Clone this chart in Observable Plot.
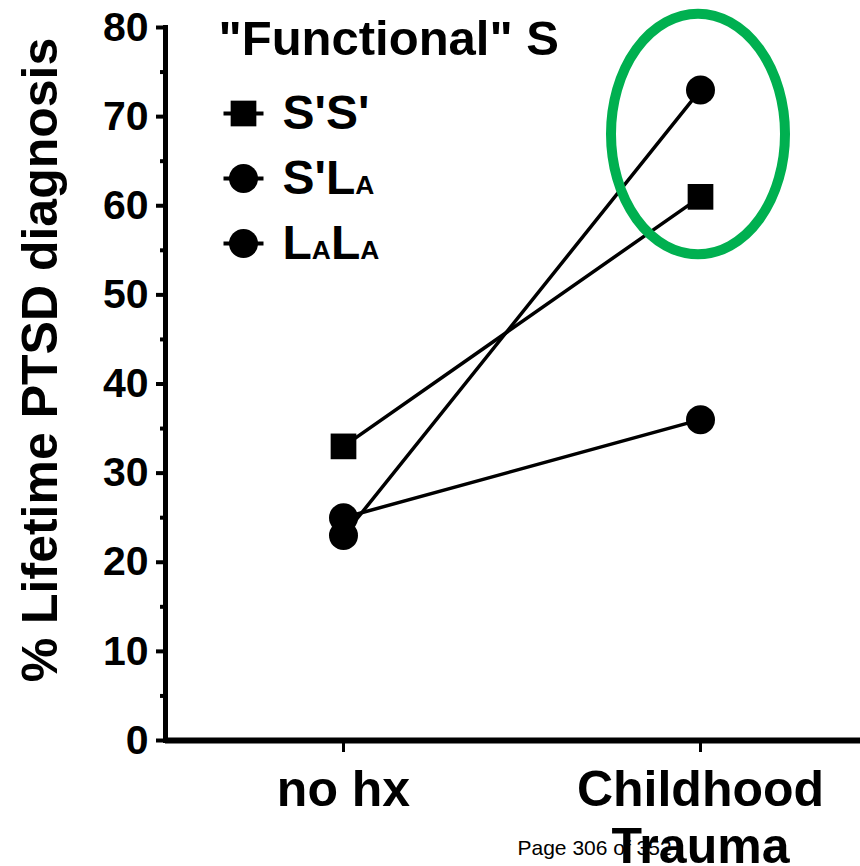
<!DOCTYPE html>
<html><head><meta charset="utf-8">
<script src="https://cdn.jsdelivr.net/npm/d3@7"></script>
<script src="https://cdn.jsdelivr.net/npm/@observablehq/plot@0.6"></script>
<style>body{margin:0;background:#fff}</style>
</head><body><div id="chart"></div>
<script>
const groups = ["no hx", "Childhood\nTrauma"];
const genotypes = ["S'S'", "S'LA", "LALA"];
const ssValues = [33, 61];
const slValues = [23, 73];
const llValues = [25, 36];
const yTicks = [0, 10, 20, 30, 40, 50, 60, 70, 80];
const yMinorTicks = [5, 15, 25, 35, 45, 55, 65, 75];
const yLabel = "% Lifetime PTSD diagnosis";
const legendTitle = "\"Functional\" S";
const legendSymbols = ["square", "circle", "circle"];
const highlightGroup = "Childhood\nTrauma";
const highlightRange = [54.5, 81.5];
const pageNote = "Page 306 of 352";

const series = [ssValues, slValues, llValues];
const data = genotypes.flatMap((g, i) => groups.map((grp, j) => ({genotype: g, group: grp, value: series[i][j]})));

const FONT = "'Liberation Sans', Arial, Helvetica, sans-serif";
const dash = {draw(ctx) { ctx.moveTo(-20, 0); ctx.lineTo(20, 0); }};

const legendMarks = genotypes.flatMap((g, i) => [
  Plot.dot([g], {frameAnchor: "top-left", dx: 78, dy: 86 + 65 * i, symbol: dash, stroke: "#000", strokeWidth: 4, fill: "none", r: 10}),
  Plot.dot([g], {frameAnchor: "top-left", dx: 78, dy: 86 + 65 * i, symbol: legendSymbols[i], fill: "#000", r: 14.5}),
  Plot.text([g], {frameAnchor: "top-left", dx: 117, dy: 86 + 65 * i, text: d => d, textAnchor: "start", lineAnchor: "middle", fontSize: 48, fontWeight: "bold", fill: "#000"})
]);

const plot = Plot.plot({
  width: 860, height: 866,
  marginTop: 27, marginBottom: 126, marginLeft: 165, marginRight: 0,
  style: {fontFamily: FONT, background: "#fff", color: "#000", overflow: "visible"},
  x: {type: "point", domain: groups, range: [343, 700], padding: 0},
  y: {domain: [0, 80]},
  symbol: {domain: genotypes, range: legendSymbols},
  marks: [
    Plot.line(data, {x: "group", y: "value", z: "genotype", stroke: "#000", strokeWidth: 3.5}),
    Plot.dot(data, {x: "group", y: "value", symbol: "genotype", r: 14.5, fill: "#000"}),
    Plot.frame({anchor: "left", strokeWidth: 5}),
    Plot.ruleY([0], {strokeWidth: 6}),
    Plot.axisY({ticks: yTicks, tickSize: 9, tickPadding: 8, strokeWidth: 4, fontSize: 41, fontWeight: "bold", label: null}),
    Plot.axisY({ticks: yMinorTicks, tickSize: 5, strokeWidth: 4, tickFormat: () => "", label: null}),
    Plot.text([yLabel], {frameAnchor: "left", text: d => d, rotate: -90, dx: -125, dy: -24, textAnchor: "middle", lineAnchor: "middle", fontSize: 50, fontWeight: "bold", fill: "#000"}),
    Plot.text([pageNote], {frameAnchor: "bottom-left", text: d => d, dx: 352, dy: 108, textAnchor: "start", lineAnchor: "middle", fontSize: 21, fontFamily: "'Liberation Sans Narrow', 'Liberation Sans', Arial, sans-serif", fill: "#000"}),
    Plot.axisX({tickSize: 12, strokeWidth: 3, tickPadding: 13, fontSize: 50, fontWeight: "bold", lineHeight: 1.14, label: null}),
    Plot.text([legendTitle], {frameAnchor: "top-left", text: d => d, dx: 53, dy: 12, textAnchor: "start", lineAnchor: "middle", fontSize: 49, fontWeight: "bold", fill: "#000"}),
    ...legendMarks
  ]
});

document.getElementById("chart").appendChild(plot);

// small-cap "A" in allele labels
d3.select(plot).selectAll("text").each(function() {
  const t = this.textContent;
  if (t === "S'LA" || t === "LALA") {
    const parts = t.split("A");
    this.textContent = "";
    parts.forEach((p, k) => {
      if (p) this.appendChild(document.createTextNode(p));
      if (k < parts.length - 1) {
        const ts = document.createElementNS("http://www.w3.org/2000/svg", "tspan");
        ts.setAttribute("font-size", "0.55em");
        ts.textContent = "A";
        this.appendChild(ts);
      }
    });
  }
});

// green highlight ellipse
const sx = plot.scale("x"), sy = plot.scale("y");
const cx = sx.apply(highlightGroup);
const yTop = sy.apply(highlightRange[1]), yBot = sy.apply(highlightRange[0]);
d3.select(plot).append("ellipse")
  .attr("cx", cx - 2)
  .attr("cy", (yTop + yBot) / 2)
  .attr("rx", 87)
  .attr("ry", (yBot - yTop) / 2)
  .attr("fill", "none")
  .attr("stroke", "#00B050")
  .attr("stroke-width", 10);
</script>
</body></html>
